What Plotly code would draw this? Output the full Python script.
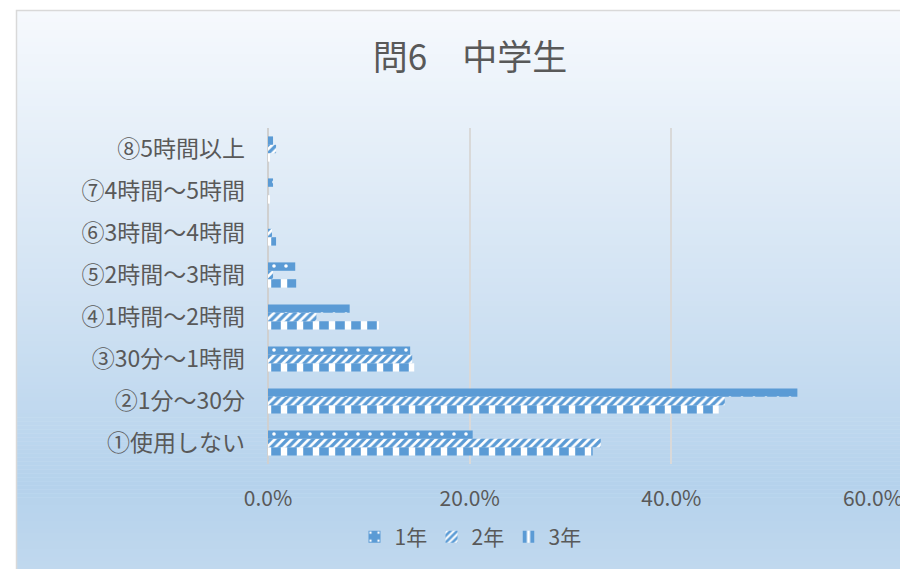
import plotly.graph_objects as go

categories = ["①使用しない", "②1分～30分", "③30分～1時間", "④1時間～2時間",
              "⑤2時間～3時間", "⑥3時間～4時間", "⑦4時間～5時間", "⑧5時間以上"]
series_names = ["1年", "2年", "3年"]
grade1 = [20.3, 52.5, 14.1, 8.1, 2.7, 0.0, 0.5, 0.5]
grade2 = [33.0, 45.3, 14.3, 4.8, 0.5, 0.4, 0.0, 0.8]
grade3 = [32.2, 44.7, 14.5, 11.0, 2.8, 0.8, 0.2, 0.2]
x_ticks = [0, 0.2, 0.4, 0.6]

BLUE = "#5B9BD5"
TXT = "#595959"
FONT = "Noto Sans CJK JP"

OFF = 8  # page body margin
W, H = 908 - OFF, 569 - OFF
L = 268 - OFF
T = 128 - OFF
R = W - (873 - OFF)
B = H - (464 - OFF)
PW, PH = W - L - R, H - T - B


def px2x(px):
    return (px - OFF - L) / PW


def py2y(py):
    return (H - B - (py - OFF)) / PH


patterns = {
    "1年": dict(shape=".", bgcolor=BLUE, fgcolor="white", size=12, solidity=0.07, fillmode="replace"),
    "2年": dict(shape="/", bgcolor="white", fgcolor=BLUE, size=6, solidity=0.55, fillmode="replace"),
    "3年": dict(shape="|", bgcolor="white", fgcolor=BLUE, size=16, solidity=0.6, fillmode="replace"),
}
values = {"1年": grade1, "2年": grade2, "3年": grade3}

fig = go.Figure()
for name in reversed(series_names):
    fig.add_trace(go.Bar(
        y=categories, x=[v / 100 for v in values[name]], name=name,
        orientation="h",
        marker=dict(color=BLUE, line=dict(width=0), pattern=patterns[name]),
    ))

# background gradient
stops = [(0.0, (246, 249, 253)), (0.5, (210, 227, 243)), (0.85, (181, 210, 236)), (1.0, (192, 216, 238))]


def col(t):
    for (t0, c0), (t1, c1) in zip(stops[:-1], stops[1:]):
        if t <= t1:
            f = (t - t0) / (t1 - t0) if t1 > t0 else 0
            return "rgb(%d,%d,%d)" % tuple(round(a + (b - a) * f) for a, b in zip(c0, c1))
    return "rgb(%d,%d,%d)" % stops[-1][1]


shapes = []
N = 140
top, bot = 10, 569
step = (bot - top) / N
for i in range(N):
    y0 = top + i * step
    y1 = y0 + step + 0.6
    shapes.append(dict(type="rect", xref="paper", yref="paper",
                       x0=px2x(16), x1=px2x(930), y0=py2y(y1), y1=py2y(y0),
                       fillcolor=col((i + 0.5) / N), line=dict(width=0), layer="below"))
shapes.append(dict(type="rect", xref="paper", yref="paper",
                   x0=px2x(16.5), x1=px2x(940), y0=py2y(600), y1=py2y(10.5),
                   fillcolor="rgba(0,0,0,0)", line=dict(color="#D9D9D9", width=1.5), layer="below"))

fig.update_layout(
    width=W, height=H,
    margin=dict(l=L, r=R, t=T, b=B, pad=0, autoexpand=False),
    paper_bgcolor="white", plot_bgcolor="rgba(0,0,0,0)",
    barmode="group", bargap=0.4, bargroupgap=0,
    shapes=shapes,
    title=dict(text="問6　中学生", x=(470 - OFF) / W, xref="container", xanchor="center",
               y=1 - (58 - OFF) / H, yref="container", yanchor="middle",
               font=dict(family=FONT, size=35, color=TXT)),
    xaxis=dict(range=[0, 0.6], tickvals=x_ticks, tickformat=".1%", automargin=False,
               showgrid=True, gridcolor="#D9D9D9", gridwidth=1.5,
               zeroline=True, zerolinecolor="#D0D0D0", zerolinewidth=2,
               showline=False, ticks="", ticklabelstandoff=20,
               tickfont=dict(family=FONT, size=21, color=TXT), fixedrange=True),
    yaxis=dict(categoryorder="array", categoryarray=categories, automargin=False,
               showgrid=False, zeroline=False, showline=False, ticks="",
               ticklabelstandoff=22,
               tickfont=dict(family=FONT, size=23, color=TXT), fixedrange=True),
    legend=dict(orientation="h", traceorder="reversed", x=px2x(470), xanchor="center",
                y=py2y(537), yanchor="middle", bgcolor="rgba(0,0,0,0)",
                entrywidth=32, entrywidthmode="pixels", itemwidth=30,
                font=dict(family=FONT, size=21, color=TXT)),
    showlegend=True,
)

fig.write_html("out.html")
